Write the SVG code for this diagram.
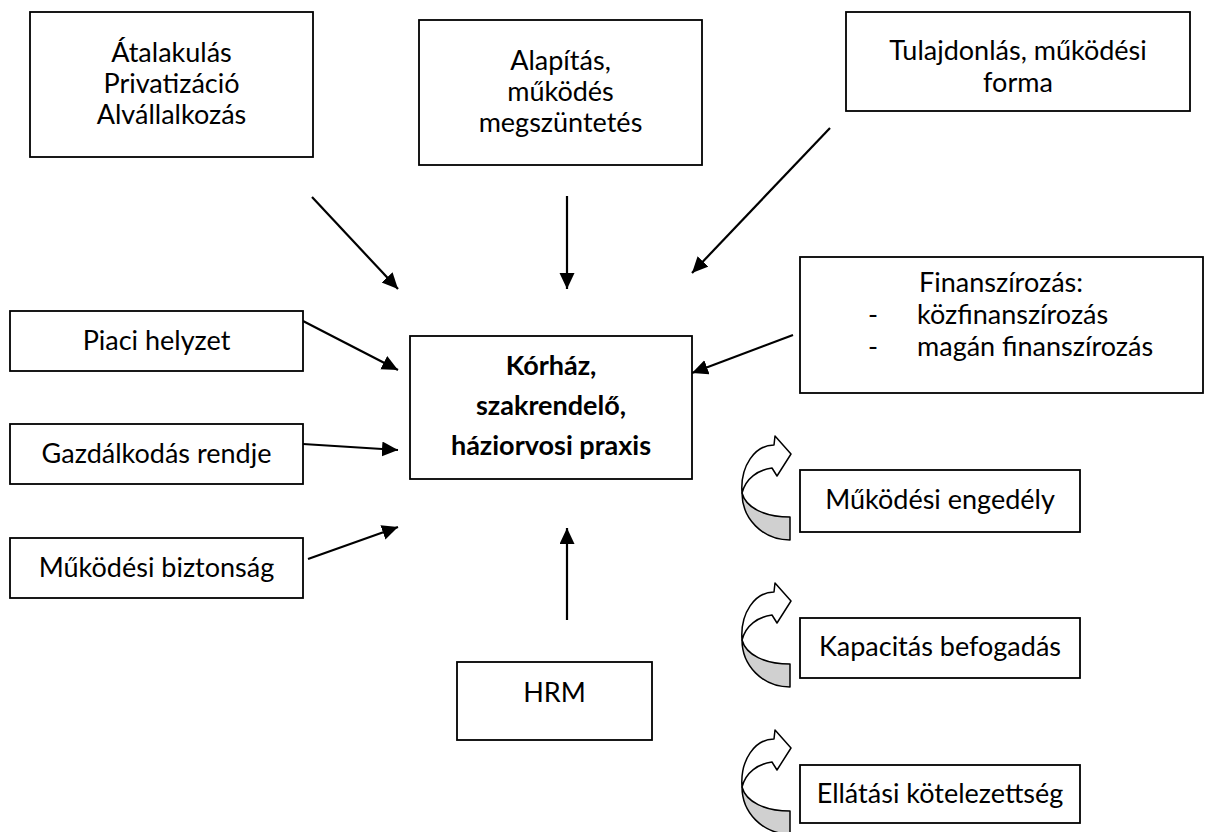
<svg xmlns="http://www.w3.org/2000/svg" xmlns:xlink="http://www.w3.org/1999/xlink" width="1212" height="832" viewBox="0 0 1212 832">
  <style>
    .box { fill: #ffffff; stroke: #000000; stroke-width: 1.8; }
    .lbl { font-family: Lato, "Liberation Sans", sans-serif; font-size: 27px; fill: #000000; text-anchor: middle; }
    .left { text-anchor: start; }
    .bold { font-weight: bold; }
    .conn { stroke: #000000; stroke-width: 2.2; fill: none; marker-end: url(#head); }
    .curl-front { fill: #ffffff; stroke: #000000; stroke-width: 1.5; stroke-linejoin: round; }
    .curl-back { fill: #d0d0d0; stroke: #000000; stroke-width: 1.5; stroke-linejoin: round; }
  </style>
  <defs>
    <marker id="head" markerUnits="userSpaceOnUse" markerWidth="18" markerHeight="16" refX="16" refY="7.5" orient="auto" viewBox="0 0 18 16">
      <path d="M0,0 L16,7.5 L0,15 Z" fill="#000000"/>
    </marker>
    <!-- twisted curved arrow: gray underside below, white front band with head above -->
    <g id="curl">
      <path class="curl-back" d="M2,57 C6,72 25,81 50,81 L50,104 C22,104 2,82 2,57 Z"/>
      <path class="curl-front" d="M2,57 C0,30 15,9 34,9 L35,0 L51,18 L37,40 L32,32 C18,34 6,42 2,57 Z"/>
    </g>
  </defs>
  <rect width="1212" height="832" fill="#ffffff"/>

  <g id="connectors">
    <line class="conn" x1="312" y1="197" x2="398" y2="289"/>
    <line class="conn" x1="567" y1="196" x2="567" y2="289"/>
    <line class="conn" x1="830" y1="128" x2="692" y2="273"/>
    <line class="conn" x1="793" y1="335" x2="692" y2="373"/>
    <line class="conn" x1="303" y1="321" x2="398" y2="370"/>
    <line class="conn" x1="303" y1="444" x2="398" y2="450"/>
    <line class="conn" x1="308" y1="559" x2="398" y2="527"/>
    <line class="conn" x1="567" y1="620" x2="567" y2="528"/>
  </g>

  <g id="node-atalakulas">
    <rect class="box" x="30" y="12" width="283" height="145"/>
    <text class="lbl" x="171.5" y="62">Átalakulás</text>
    <text class="lbl" x="171.5" y="93">Privatizáció</text>
    <text class="lbl" x="171.5" y="124">Alvállalkozás</text>
  </g>

  <g id="node-alapitas">
    <rect class="box" x="419" y="20" width="283" height="145"/>
    <text class="lbl" x="560.5" y="70">Alapítás,</text>
    <text class="lbl" x="560.5" y="101">működés</text>
    <text class="lbl" x="560.5" y="132">megszüntetés</text>
  </g>

  <g id="node-tulajdonlas">
    <rect class="box" x="846" y="12" width="344" height="99"/>
    <text class="lbl" x="1018" y="60">Tulajdonlás, működési</text>
    <text class="lbl" x="1018" y="92">forma</text>
  </g>

  <g id="node-finanszirozas">
    <rect class="box" x="800" y="257" width="403" height="136"/>
    <text class="lbl left" x="919" y="292">Finanszírozás:</text>
    <text class="lbl" x="873" y="324">-</text>
    <text class="lbl left" x="917" y="324">közfinanszírozás</text>
    <text class="lbl" x="873" y="356">-</text>
    <text class="lbl left" x="917" y="356">magán finanszírozás</text>
  </g>

  <g id="node-korhaz">
    <rect class="box" x="410" y="336" width="282" height="143"/>
    <text class="lbl bold" x="551" y="375">Kórház,</text>
    <text class="lbl bold" x="551" y="415">szakrendelő,</text>
    <text class="lbl bold" x="551" y="455">háziorvosi praxis</text>
  </g>

  <g id="node-piaci">
    <rect class="box" x="10" y="311" width="293" height="60"/>
    <text class="lbl" x="156.5" y="350">Piaci helyzet</text>
  </g>

  <g id="node-gazdalkodas">
    <rect class="box" x="10" y="424" width="293" height="60"/>
    <text class="lbl" x="156.5" y="463">Gazdálkodás rendje</text>
  </g>

  <g id="node-biztonsag">
    <rect class="box" x="10" y="538" width="293" height="60"/>
    <text class="lbl" x="156.5" y="577">Működési biztonság</text>
  </g>

  <g id="node-hrm">
    <rect class="box" x="457" y="662" width="195" height="78"/>
    <text class="lbl" x="554.5" y="702">HRM</text>
  </g>

  <g id="node-engedely">
    <use xlink:href="#curl" transform="translate(740,436)"/>
    <rect class="box" x="800" y="470" width="280" height="62"/>
    <text class="lbl" x="940" y="509">Működési engedély</text>
  </g>

  <g id="node-kapacitas">
    <use xlink:href="#curl" transform="translate(740,583)"/>
    <rect class="box" x="800" y="618" width="280" height="60"/>
    <text class="lbl" x="940" y="656">Kapacitás befogadás</text>
  </g>

  <g id="node-ellatasi">
    <use xlink:href="#curl" transform="translate(740,730)"/>
    <rect class="box" x="800" y="765" width="280" height="58"/>
    <text class="lbl" x="940" y="803">Ellátási kötelezettség</text>
  </g>
</svg>
